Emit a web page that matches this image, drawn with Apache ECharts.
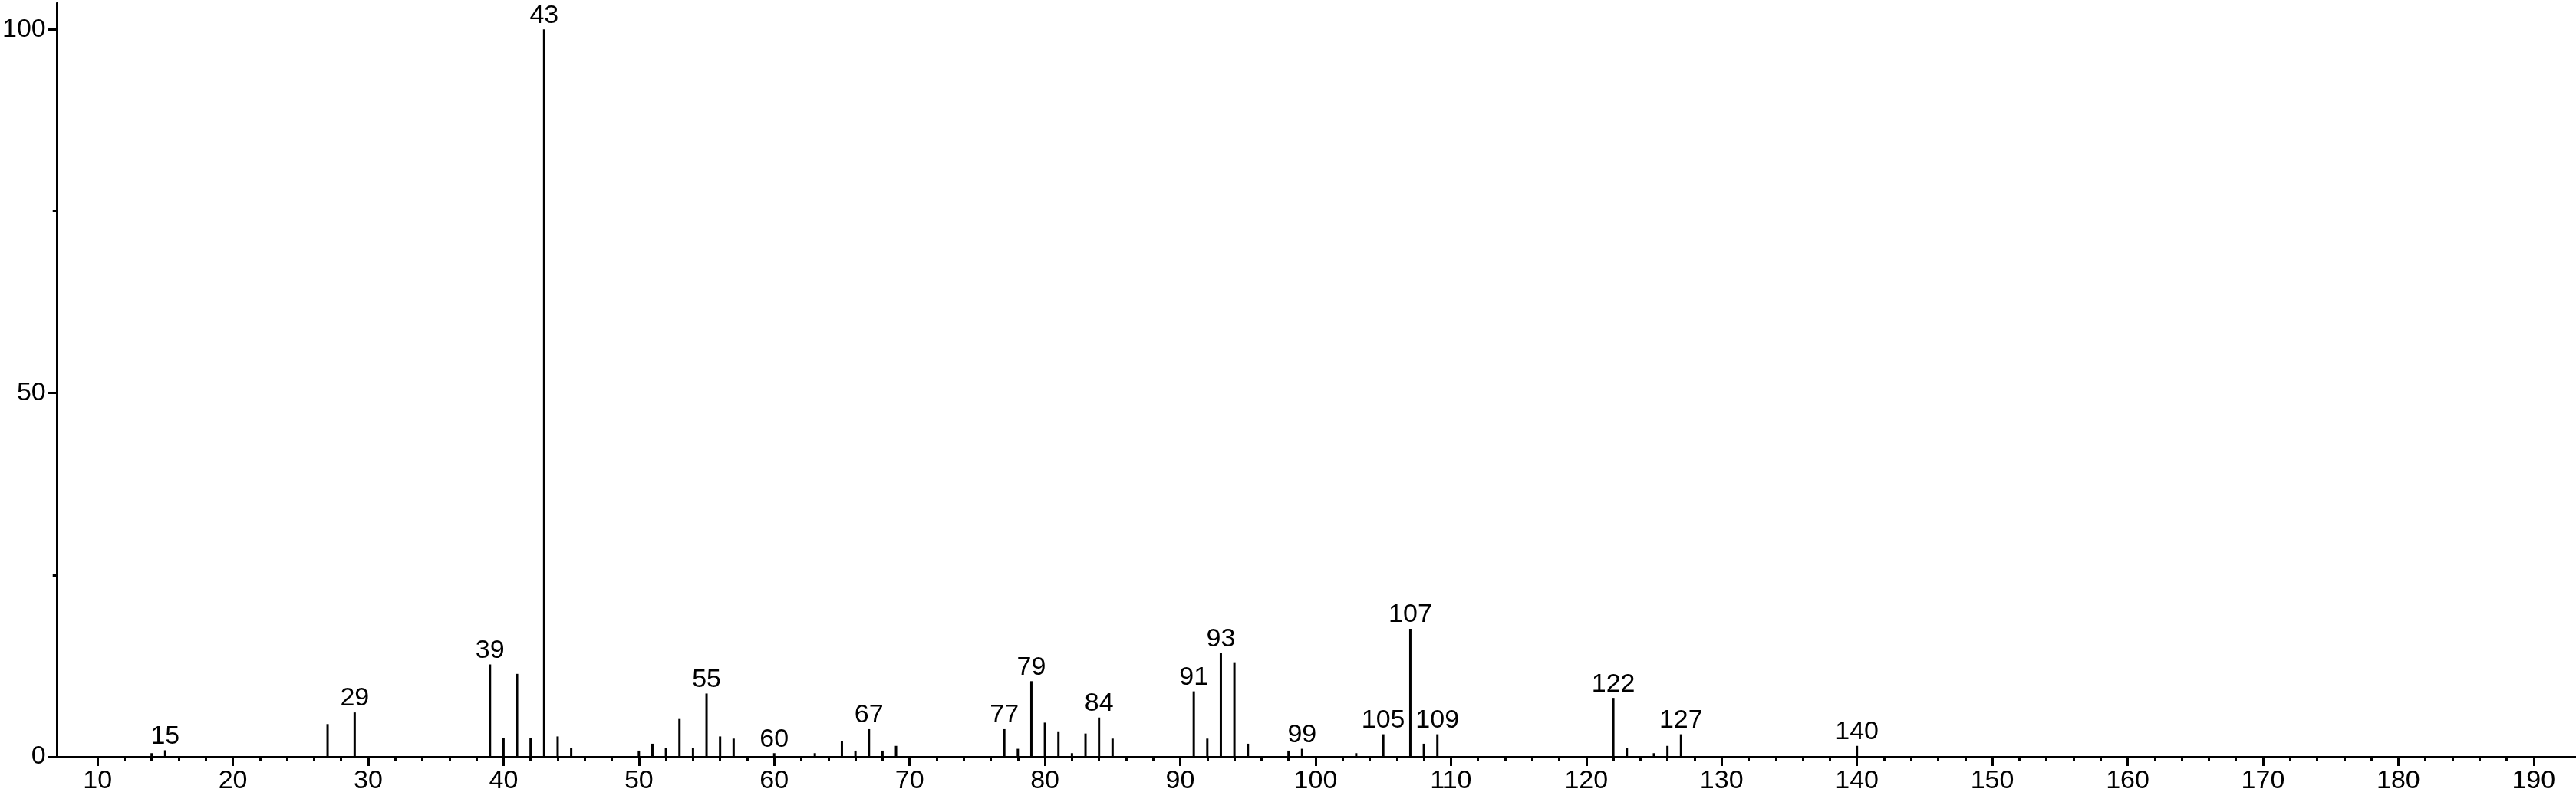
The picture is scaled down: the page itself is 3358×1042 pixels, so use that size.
<!DOCTYPE html>
<html><head><meta charset="utf-8">
<script src="https://cdn.jsdelivr.net/npm/echarts@6/dist/echarts.min.js"></script>
<style>html,body{margin:0;padding:0;background:#fff}#c{width:3358px;height:1042px}</style>
</head><body><div id="c"></div>
<script>
// m/z values and relative intensities
const mz = [14,15,27,29,39,40,41,42,43,44,45,50,51,52,53,54,55,56,57,60,63,65,66,67,68,69,77,78,79,80,81,82,83,84,85,91,92,93,94,95,98,99,103,105,107,108,109,122,123,125,126,127,140];
const intensity = [0.5,0.9,4.5,6.1,12.7,2.6,11.4,2.6,100,2.8,1.2,0.85,1.8,1.2,5.2,1.2,8.7,2.8,2.5,0.5,0.5,2.2,0.85,3.8,0.85,1.5,3.8,1.1,10.4,4.7,3.5,0.5,3.2,5.4,2.5,9.0,2.5,14.3,13.0,1.8,0.85,1.1,0.5,3.1,17.6,1.8,3.1,8.1,1.2,0.5,1.5,3.1,1.5];
const labeledMz = [15,29,39,43,55,60,67,77,79,84,91,93,99,105,107,109,122,127,140];
const xMajorTicks = [10,20,30,40,50,60,70,80,90,100,110,120,130,140,150,160,170,180,190];
const yMajorTicks = [0,50,100];
const yMinorTicks = [25,75];
const xMinorTicks = [];
for (let v = 12; v <= 188; v += 2) { if (v % 10 !== 0) xMinorTicks.push(v); }

const X_MIN = 7.03, X_MAX = 193.13, Y_MAX = 103.6;
const FONT = '"Liberation Sans", Arial, sans-serif';
const FS = 34;
const black = '#000';

const chart = echarts.init(document.getElementById('c'), null, {renderer: 'canvas'});
const data = mz.map((m, i) => [m, intensity[i], labeledMz.indexOf(m) >= 0 ? 1 : 0]);

chart.setOption({
  animation: false,
  backgroundColor: '#fff',
  grid: {left: 69.5, right: 0, top: 4, bottom: 55, containLabel: false},
  xAxis: [
    {type: 'value', min: X_MIN, max: X_MAX, position: 'bottom',
      axisLine: {show: true, lineStyle: {color: black, width: 3}},
      axisTick: {show: true, customValues: xMajorTicks, length: 12, lineStyle: {color: black, width: 3}},
      axisLabel: {show: true, customValues: xMajorTicks, color: black, fontSize: FS, fontFamily: FONT, margin: 15},
      splitLine: {show: false}},
    {type: 'value', min: X_MIN, max: X_MAX, position: 'bottom',
      axisLine: {show: false},
      axisTick: {show: true, customValues: xMinorTicks, length: 6, lineStyle: {color: black, width: 3}},
      axisLabel: {show: false},
      splitLine: {show: false}}
  ],
  yAxis: [
    {type: 'value', min: 0, max: Y_MAX, position: 'left',
      axisLine: {show: true, lineStyle: {color: black, width: 3}},
      axisTick: {show: true, customValues: yMajorTicks, length: 12, lineStyle: {color: black, width: 3}},
      axisLabel: {show: true, customValues: yMajorTicks, color: black, fontSize: FS, fontFamily: FONT, margin: 15},
      splitLine: {show: false}},
    {type: 'value', min: 0, max: Y_MAX, position: 'left',
      axisLine: {show: false},
      axisTick: {show: true, customValues: yMinorTicks, length: 6, lineStyle: {color: black, width: 3}},
      axisLabel: {show: false},
      splitLine: {show: false}}
  ],
  series: [{
    type: 'custom',
    xAxisIndex: 0, yAxisIndex: 0,
    data: data,
    renderItem: function (params, api) {
      const x = api.value(0), y = api.value(1), lab = api.value(2);
      const p0 = api.coord([x, 0]);
      const p1 = api.coord([x, y]);
      const children = [{
        type: 'line',
        shape: {x1: p0[0], y1: p0[1], x2: p1[0], y2: p1[1]},
        style: {stroke: black, lineWidth: 3}
      }];
      if (lab) {
        children.push({
          type: 'text',
          x: p1[0], y: p1[1] - 1,
          style: {text: String(x), fill: black, font: FS + 'px ' + FONT, align: 'center', verticalAlign: 'bottom'}
        });
      }
      return {type: 'group', children: children};
    }
  }]
});
</script>
</body></html>
